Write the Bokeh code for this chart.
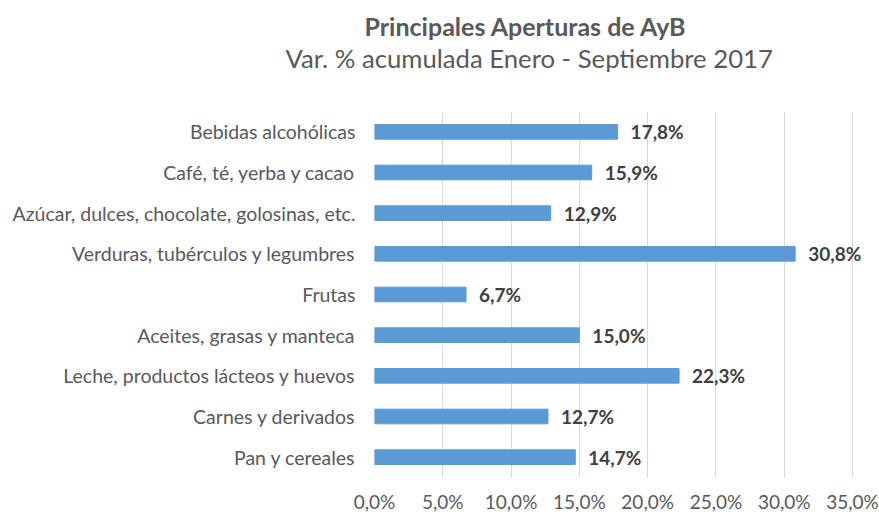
from bokeh.plotting import figure
from bokeh.models import ColumnDataSource, FixedTicker, Title, FactorRange, Range1d
from bokeh.core.properties import value
from bokeh.embed import file_html
from bokeh.resources import INLINE

categories = [
    "Bebidas alcohólicas",
    "Café, té, yerba y cacao",
    "Azúcar, dulces, chocolate, golosinas, etc.",
    "Verduras, tubérculos y legumbres",
    "Frutas",
    "Aceites, grasas y manteca",
    "Leche, productos lácteos y huevos",
    "Carnes y derivados",
    "Pan y cereales",
]
values = [17.8, 15.9, 12.9, 30.8, 6.7, 15.0, 22.3, 12.7, 14.7]
value_labels = ["17,8%", "15,9%", "12,9%", "30,8%", "6,7%", "15,0%", "22,3%", "12,7%", "14,7%"]
x_ticks = [0, 5, 10, 15, 20, 25, 30, 35]
x_tick_labels = ["0,0%", "5,0%", "10,0%", "15,0%", "20,0%", "25,0%", "30,0%", "35,0%"]

FONT = "Lato"
GREY = "#595959"

src = ColumnDataSource(dict(cat=categories, val=values, lab=value_labels))

p = figure(
    width=879, height=515,
    y_range=FactorRange(*reversed(categories)),
    x_range=Range1d(0, 35.73),
    output_backend="svg", toolbar_location=None,
    min_border_left=374, min_border_right=17, min_border_bottom=37, min_border_top=111,
)
p.outline_line_color = None

p.hbar(y="cat", right="val", left=0, height=0.36, source=src,
       fill_color="#5B9BD5", line_color="#5B9BD5")
p.text(x="val", y="cat", text="lab", source=src, x_offset=13,
       text_baseline="middle", text_align="left",
       text_font=value(FONT), text_font_style="bold",
       text_font_size="19px", text_color="#404040")

p.xaxis.ticker = FixedTicker(ticks=x_ticks)
p.xaxis.major_label_overrides = {t: l for t, l in zip(x_ticks, x_tick_labels)}
for ax in (p.xaxis[0], p.yaxis[0]):
    ax.axis_line_color = None
    ax.major_tick_line_color = None
    ax.minor_tick_line_color = None
    ax.major_tick_out = 0
    ax.major_tick_in = 0
    ax.minor_tick_out = 0
    ax.major_label_text_font = FONT
    ax.major_label_text_color = GREY
p.xaxis.major_label_text_font_size = "19px"
p.yaxis.major_label_text_font_size = "19.5px"
p.xaxis.major_label_standoff = 12
p.yaxis.major_label_standoff = 19

p.xgrid.grid_line_color = "#D9D9D9"
p.xgrid.ticker = FixedTicker(ticks=x_ticks)
p.ygrid.grid_line_color = None

spacer = Title(text=" ", text_font_size="1px", standoff=36)
sub = Title(text="Var. % acumulada Enero - Septiembre 2017", align="left", offset=-89,
            text_font=FONT, text_font_size="25.7px", text_font_style="normal",
            text_color=GREY, standoff=0)
tit = Title(text="Principales Aperturas de AyB", align="left", offset=-10,
            text_font=FONT, text_font_size="25px", text_font_style="bold",
            text_color=GREY, standoff=0)
p.add_layout(spacer, "above")
p.add_layout(sub, "above")
p.add_layout(tit, "above")

open("out.html", "w").write(file_html(p, INLINE))
